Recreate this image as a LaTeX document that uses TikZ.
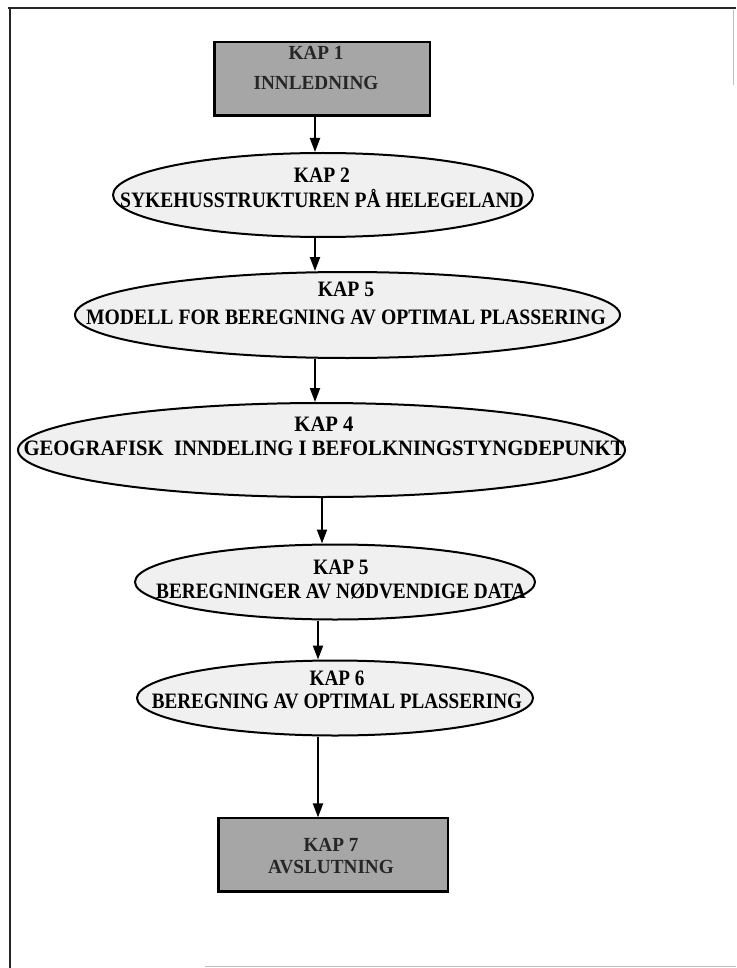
\documentclass[tikz,border=0pt]{standalone}
\usepackage{graphicx}
\usepackage{fontspec}
\setmainfont{Liberation Serif}
\usetikzlibrary{arrows.meta,shapes.geometric}
\newcommand{\twolines}[4]{\scalebox{#1}[1]{\begin{tabular}{@{}c@{}}#2\\[#3]#4\end{tabular}}}
\begin{document}
\begin{tikzpicture}[x=1pt,y=-1pt,
  ell/.style={ellipse, draw=black, line width=2pt, fill=gray!12, inner sep=0pt},
  gbox/.style={rectangle, draw=black, line width=1.2pt, fill=gray!70, inner sep=0pt},
  etxt/.style={font=\fontsize{22}{24}\selectfont\bfseries, inner sep=0pt},
  btxt/.style={font=\fontsize{20}{24}\selectfont\bfseries, inner sep=0pt, text=black!85},
  arr/.style={line width=2pt, -{Triangle[length=14pt,width=10pt]}},
  frame/.style={line width=2.5pt, black!85},
  faint/.style={line width=1pt, black!25}]
\useasboundingbox (0,0) rectangle (736,968);
% frame
\draw[frame] (8,8) -- (736,8);
\draw[frame] (10,8) -- (10,968);
\draw[faint] (733,10) -- (733,85);
\draw[faint] (205,966) -- (736,966);
% boxes
\node[gbox, minimum width=215pt, minimum height=73pt] (b1) at (322.5,78.5) {};
\draw[line width=2.5pt] (b1.north west) -- (b1.south west) -- (b1.south east);
\node[btxt] (tb1) at (316,70) {\twolines{0.96}{KAP 1}{6pt}{INNLEDNING}};
\node[gbox, minimum width=229pt, minimum height=73pt] (b2) at (333.5,854.5) {};
\draw[line width=2.5pt] (b2.north west) -- (b2.south west) -- (b2.south east);
\node[btxt] (tb2) at (331,858) {\twolines{0.96}{KAP 7}{-2pt}{AVSLUTNING}};
% ellipses
\node[ell, minimum width=420pt, minimum height=84pt] (e1) at (323,195) {};
\node[etxt] (t1) at (322,190) {\twolines{0.89}{KAP 2}{0pt}{SYKEHUSSTRUKTUREN PÅ HELEGELAND}};
\node[ell, minimum width=545pt, minimum height=86pt] (e2) at (347.5,315) {};
\node[etxt] (t2) at (346,306) {\twolines{0.895}{KAP 5}{4pt}{MODELL FOR BEREGNING AV OPTIMAL PLASSERING}};
\node[ell, minimum width=607pt, minimum height=94pt] (e3) at (321.5,450) {};
\node[etxt] (t3) at (324,439) {\twolines{0.94}{KAP 4}{0pt}{GEOGRAFISK\ \ INNDELING I BEFOLKNINGSTYNGDEPUNKT}};
\node[ell, minimum width=400pt, minimum height=75pt] (e4) at (335,582) {};
\node[etxt] (t4) at (341,582) {\twolines{0.878}{KAP 5}{0pt}{BEREGNINGER AV NØDVENDIGE DATA}};
\node[ell, minimum width=396pt, minimum height=75pt] (e5) at (335,698) {};
\node[etxt] (t5) at (337,692) {\twolines{0.87}{KAP 6}{-1pt}{BEREGNING AV OPTIMAL PLASSERING}};
% arrow x positions
\coordinate (x1) at (315,0);
\coordinate (x4) at (322,0);
\coordinate (x5) at (318,0);
\draw[arr] (b1.south -| x1) -- (e1.north -| x1);
\draw[arr] (e1.south -| x1) -- (e2.north -| x1);
\draw[arr] (e2.south -| x1) -- (e3.north -| x1);
\draw[arr] (e3.south -| x4) -- (e4.north -| x4);
\draw[arr] (e4.south -| x5) -- (e5.north -| x5);
\draw[arr] (e5.south -| x5) -- (b2.north -| x5);
\end{tikzpicture}
\end{document}
